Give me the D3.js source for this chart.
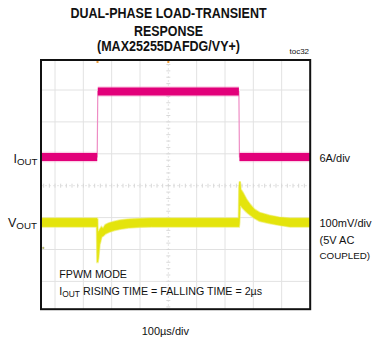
<!DOCTYPE html>
<html>
<head>
<meta charset="utf-8">
<script src="https://cdn.jsdelivr.net/npm/d3@7"></script>
<style>
  html, body { margin: 0; padding: 0; background: #fff; }
  svg { display: block; }
  text { font-family: "Liberation Sans", Arial, sans-serif; fill: #111; }
</style>
</head>
<body>
<svg id="chart" width="372" height="341"></svg>
<script>
// Scope settings: 100us/div horizontal, 10 divisions; 8 vertical divisions
const timeGrid = [-500, -400, -300, -200, -100, 0, 100, 200, 300, 400, 500]; // us
const divGrid = [-4, -3, -2, -1, 0, 1, 2, 3, 4];

// IOUT channel (6A/div): load step up at -250us, down at +250us, 2us edges
const ioutTime = [-500, -251, -249, 249, 251, 500];      // us
const ioutAmps = [3, 3, 15.3, 15.3, 3, 3];                // A

// VOUT channel (100mV/div, AC coupled): upper / lower envelope of the noisy trace
const voutTime = [-500, -252, -250.5, -249.5, -247, -243, -236, -230, -222, -210, -190, -170, -140, -100, -60,
                  249, 250.5, 252.5, 255, 262, 276, 289, 304, 322, 357, 392, 430, 500];
const voutHigh = [12, 12, 10, -40, -30, -25, -15, -20, -8, -3, 2, 6, 9, 11, 12,
                  12, 110, 128, 103, 94, 71, 55, 40, 30, 21, 15, 12, 12];   // mV
const voutLow  = [-13, -13, -124, -124, -110, -70, -45, -42, -35, -30, -24, -20, -16, -14, -13,
                  -13, 0, 50, 55, 46, 33, 24, 14, 5, -2, -8, -13, -13];     // mV

const ioutPerDiv = 6, ioutOffsetDiv = 0.4;
const voutPerDiv = 100, voutOffsetDiv = -1.15;

const svg = d3.select("#chart");
const frame = { x0: 41, y0: 60, x1: 310.2, y1: 309.2 };

const x = d3.scaleLinear().domain([-500, 500]).range([26.67, 310]);
const yDiv = d3.scaleLinear().domain([-4, 4]).range([313.3, 58.1]);
const yI = a => yDiv(ioutOffsetDiv + a / ioutPerDiv);
const yV = mv => yDiv(voutOffsetDiv + mv / voutPerDiv);

svg.append("defs").append("clipPath").attr("id", "screen")
  .append("rect").attr("x", frame.x0).attr("y", frame.y0)
  .attr("width", frame.x1 - frame.x0).attr("height", frame.y1 - frame.y0);

const screen = svg.append("g").attr("clip-path", "url(#screen)");

// graticule
screen.selectAll("line.vg").data(timeGrid.filter(t => t !== 0)).join("line")
  .attr("x1", d => x(d)).attr("x2", d => x(d))
  .attr("y1", frame.y0).attr("y2", frame.y1)
  .attr("stroke", "#e2e2e2").attr("stroke-width", 1);
screen.selectAll("line.hg").data(divGrid.filter(d => d !== 0)).join("line")
  .attr("y1", d => yDiv(d)).attr("y2", d => yDiv(d))
  .attr("x1", frame.x0).attr("x2", frame.x1)
  .attr("stroke", "#e2e2e2").attr("stroke-width", 1);

// center axes with minor ticks
screen.append("line").attr("x1", x(0)).attr("x2", x(0)).attr("y1", frame.y0).attr("y2", frame.y1)
  .attr("stroke", "#e6e6e6").attr("stroke-dasharray", "2,2");
screen.append("line").attr("y1", yDiv(0)).attr("y2", yDiv(0)).attr("x1", frame.x0).attr("x2", frame.x1)
  .attr("stroke", "#e6e6e6").attr("stroke-dasharray", "2,2");
const minorDiv = d3.range(-4, 4.001, 0.2);
screen.selectAll("line.mty").data(minorDiv).join("line")
  .attr("x1", x(0) - 2).attr("x2", x(0) + 2)
  .attr("y1", d => yDiv(d)).attr("y2", d => yDiv(d))
  .attr("stroke", "#d8d8d8");
const minorT = d3.range(-500, 500.001, 20);
screen.selectAll("line.mtx").data(minorT).join("line")
  .attr("y1", yDiv(0) - 2).attr("y2", yDiv(0) + 2)
  .attr("x1", d => x(d)).attr("x2", d => x(d))
  .attr("stroke", "#d8d8d8");

// IOUT trace: thin edge line, then flat segments with a noise halo
const iData = ioutTime.map((t, i) => ({ t, a: ioutAmps[i] }));
const iLine = d3.line().x(d => x(d.t)).y(d => yI(d.a));
screen.append("path").datum(iData).attr("d", iLine)
  .attr("fill", "none").attr("stroke", "#ee8cc4").attr("stroke-width", 1.2);
const flats = [[0, 1], [2, 3], [4, 5]].map(([a, b]) => [iData[a], iData[b]]);
screen.selectAll("path.ihalo").data(flats).join("path")
  .attr("d", iLine).attr("fill", "none")
  .attr("stroke", "#f07ab8").attr("stroke-width", 10.5).attr("stroke-opacity", 0.35);
screen.selectAll("path.icore").data(flats).join("path")
  .attr("d", iLine).attr("fill", "none")
  .attr("stroke", "#e2007a").attr("stroke-width", 8);

// VOUT trace (noise envelope)
const vData = voutTime.map((t, i) => ({ t, hi: voutHigh[i], lo: voutLow[i] }));
const vArea = d3.area().x(d => x(d.t)).y0(d => yV(d.lo)).y1(d => yV(d.hi));
screen.append("path").datum(vData).attr("d", vArea)
  .attr("fill", "#eded70").attr("stroke", "#eded70").attr("stroke-width", 2.4).attr("opacity", 0.7);
screen.append("path").datum(vData).attr("d", vArea)
  .attr("fill", "#e4e40c").attr("stroke", "#e4e40c").attr("stroke-width", 0.8);

// trigger / position markers
svg.selectAll("rect.mk").data([-250, 0]).join("rect")
  .attr("x", d => x(d) - 1).attr("y", 60.5).attr("width", 2).attr("height", 2.5)
  .attr("fill", "#f0a040");
svg.append("circle").attr("cx", 43.3).attr("cy", yV(-80)).attr("r", 1.1).attr("fill", "#b8b870");

// screen frame
svg.append("rect").attr("x", frame.x0).attr("y", frame.y0)
  .attr("width", frame.x1 - frame.x0).attr("height", frame.y1 - frame.y0)
  .attr("fill", "none").attr("stroke", "#111").attr("stroke-width", 2);

// title
const title = [
  { s: "DUAL-PHASE LOAD-TRANSIENT", y: 18.3, w: 196 },
  { s: "RESPONSE", y: 36, w: 69 },
  { s: "(MAX25255DAFDG/VY+)", y: 50.8, w: 143 }
];
svg.selectAll("text.title").data(title).join("text")
  .attr("x", 168.5).attr("y", d => d.y).attr("text-anchor", "middle")
  .attr("font-size", 14).attr("font-weight", "bold")
  .attr("textLength", d => d.w).attr("lengthAdjust", "spacingAndGlyphs")
  .text(d => d.s);
svg.append("text").attr("x", 289.5).attr("y", 54).attr("font-size", 8).text("toc32");

// channel labels
function subLabel(xp, yp, main, sub, size) {
  const t = svg.append("text").attr("x", xp).attr("y", yp).attr("font-size", size);
  t.append("tspan").text(main);
  t.append("tspan").attr("font-size", size * 0.78).attr("dy", 2).text(sub);
  return t;
}
subLabel(13.5, 163, "I", "OUT", 12.5);
subLabel(8, 227.3, "V", "OUT", 12.5);

const rightLabels = [
  { s: "6A/div", y: 161.7, size: 11 },
  { s: "100mV/div", y: 226.7, size: 11 },
  { s: "(5V AC", y: 243.5, size: 11 },
  { s: "COUPLED)", y: 258.5, size: 9.8 }
];
svg.selectAll("text.rl").data(rightLabels).join("text")
  .attr("x", 319.5).attr("y", d => d.y).attr("font-size", d => d.size)
  .text(d => d.s);

// notes inside the screen
svg.append("text").attr("x", 59.3).attr("y", 278.3).attr("font-size", 10.7).text("FPWM MODE");
const note = svg.append("text").attr("x", 59.3).attr("y", 295).attr("font-size", 10.7);
note.append("tspan").text("I");
note.append("tspan").attr("font-size", 8.4).attr("dy", 1.8).text("OUT");
note.append("tspan").attr("dy", -1.8).text(" RISING TIME = FALLING TIME = 2µs");

// time base
svg.append("text").attr("x", 165.3).attr("y", 335).attr("text-anchor", "middle")
  .attr("font-size", 11).text("100µs/div");
</script>
</body>
</html>
